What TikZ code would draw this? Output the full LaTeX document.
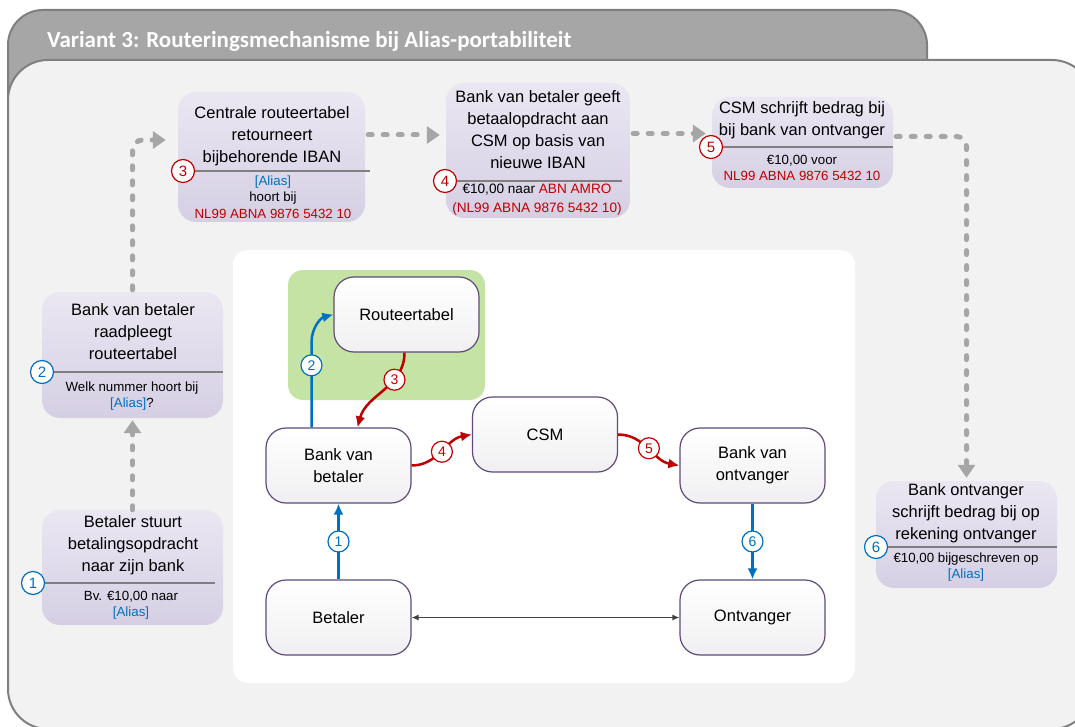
\documentclass[tikz,border=0pt]{standalone}
\usepackage{fontspec}
\setmainfont{Liberation Sans}
\newfontfamily\headfont{Carlito}
\usetikzlibrary{arrows.meta}

\definecolor{flowred}{RGB}{192,0,0}
\definecolor{flowblue}{RGB}{0,112,192}
\definecolor{tabgray}{RGB}{166,166,166}
\definecolor{rimgray}{RGB}{127,127,127}
\definecolor{panelgray}{RGB}{242,242,242}
\definecolor{routegreen}{RGB}{197,227,165}
\definecolor{rimpurple}{RGB}{96,74,123}
\definecolor{actorbot}{RGB}{240,240,242}
\definecolor{steptop}{RGB}{234,231,242}
\definecolor{stepbot}{RGB}{214,207,228}
\definecolor{hopgray}{RGB}{166,166,166}
\definecolor{duplex}{RGB}{64,64,64}

\newcommand\aliasref{\textcolor{flowblue}{[Alias]}}

\begin{document}
\begin{tikzpicture}[x=1pt,y=-1pt,
   actor/.style={draw=rimpurple,line width=1.2pt,rounded corners=20pt,top color=white,bottom color=actorbot,
      minimum width=145pt,minimum height=75pt,inner sep=0pt,align=center,font=\fontsize{16.5}{22}\selectfont},
   stepbox/.style={rounded corners=18pt,top color=steptop,bottom color=stepbot,inner sep=0pt},
   steptitle/.style={inner sep=0pt,align=center,font=\fontsize{16.5}{22}\selectfont},
   stepsub/.style={inner sep=0pt,align=center,font=\fontsize{13.3}{16.5}\selectfont},
   numred/.style={circle,draw=flowred,fill=white,text=flowred,line width=1.2pt,minimum size=23pt,inner sep=0pt,font=\fontsize{15}{15}\selectfont},
   numblue/.style={numred,draw=flowblue,text=flowblue},
   tagred/.style={numred,minimum size=21pt,font=\fontsize{14}{14}\selectfont},
   tagblue/.style={tagred,draw=flowblue,text=flowblue},
   sepline/.style={draw=rimgray,line width=1.2pt},
   redflow/.style={draw=flowred,line width=2.5pt,-{Latex[length=11pt,width=10pt]}},
   blueflow/.style={redflow,draw=flowblue},
   duplexflow/.style={draw=duplex,line width=1.2pt,{Latex[length=7pt,width=6pt]}-{Latex[length=7pt,width=6pt]}},
   hop/.style={draw=hopgray,line width=5pt,dash pattern=on 4pt off 11pt,line cap=round,rounded corners=10pt,
      -{Triangle[length=13pt,width=17pt]}}]

   \useasboundingbox (0,0) rectangle (1075,727);
   \clip (0,0) rectangle (1075,727);

   \filldraw[fill=tabgray,draw=rimgray,line width=2pt,rounded corners=35pt] (8,10) rectangle (927,150);
   \node[anchor=base west,text=white,inner sep=0pt,font=\headfont\bfseries\fontsize{23}{27}\selectfont] (heading) at (47,48)
      {Variant 3: Routeringsmechanisme bij Alias-portabiliteit};
   \filldraw[fill=panelgray,draw=rimgray,line width=2pt,rounded corners=40pt] (8,60) rectangle (1092,729);

   \fill[white,rounded corners=15pt] (233,250) rectangle (855,683);
   \fill[routegreen,rounded corners=15pt] (288,270) rectangle (485,400);


   \node[stepbox,minimum width=181pt,minimum height=115pt] (s1) at (132.5,567.5) {};
   \node[steptitle] (s1t) at (133,545) {Betaler stuurt\\betalingsopdracht\\naar zijn bank};
   \node[numblue] (s1n) at (33,583) {1};
   \draw[sepline] (s1n) -- ([xshift=-8pt]s1n -| s1.east);
   \node[stepsub] (s1s) at (131,605) {Bv. €10,00 naar\\\aliasref};

   \node[stepbox,minimum width=181pt,minimum height=126pt] (s2) at (132.5,355) {};
   \node[steptitle] (s2t) at (133,332) {Bank van betaler\\raadpleegt\\routeertabel};
   \node[numblue] (s2n) at (42,372) {2};
   \draw[sepline] (s2n) -- (s2n -| s2.east);
   \node[stepsub] (s2s) at (132,396) {Welk nummer hoort bij\\\aliasref?};

   \node[stepbox,minimum width=187pt,minimum height=130pt] (s3) at (271.5,157) {};
   \node[steptitle] (s3t) at (272,136) {Centrale routeertabel\\retourneert\\bijbehorende IBAN};
   \node[numred] (s3n) at (183,171) {3};
   \draw[sepline] (s3n) -- ([xshift=5pt]s3n -| s3.east);
   \node[stepsub] (s3s) at (273,197) {\aliasref\\hoort bij\\\textcolor{flowred}{NL99 ABNA 9876 5432 10}};

   \node[stepbox,minimum width=184pt,minimum height=135pt] (s4) at (538,150.5) {};
   \node[steptitle] (s4t) at (538,130) {Bank van betaler geeft\\betaalopdracht aan\\CSM op basis van\\nieuwe IBAN};
   \node[numred] (s4n) at (445,181) {4};
   \draw[sepline] (s4n) -- ([xshift=-8pt]s4n -| s4.east);
   \node[stepsub,font=\fontsize{13.6}{19}\selectfont] (s4s) at (537,200)
      {€10,00 naar \textcolor{flowred}{ABN AMRO}\\\textcolor{flowred}{(NL99 ABNA 9876 5432 10)}};

   \node[stepbox,minimum width=181pt,minimum height=91pt] (s5) at (802.5,142.5) {};
   \node[steptitle] (s5t) at (802,120) {CSM schrijft bedrag bij\\bij bank van ontvanger};
   \node[numred] (s5n) at (711,147) {5};
   \draw[sepline] (s5n) -- (s5n -| s5.east);
   \node[stepsub] (s5s) at (802,168) {€10,00 voor\\\textcolor{flowred}{NL99 ABNA 9876 5432 10}};

   \node[stepbox,minimum width=181pt,minimum height=107pt] (s6) at (966.5,534.5) {};
   \node[steptitle] (s6t) at (966,513) {Bank ontvanger\\schrijft bedrag bij op\\rekening ontvanger};
   \node[numblue] (s6n) at (876,547) {6};
   \draw[sepline] (s6n) -- (s6n -| s6.east);
   \node[stepsub] (s6s) at (966,567) {€10,00 bijgeschreven op\\\aliasref};


   \draw[hop,shorten >=2pt] (s1.north) -- (s2.south);
   \draw[hop,shorten >=12pt,shorten <=2pt] (s2.north) |- ([yshift=17pt]s3.west);
   \draw[hop,shorten >=6pt,shorten <=3pt] ([yshift=22pt]s3.east) -- ([yshift=22pt]s3.east -| s4.west);
   \draw[hop,shorten >=6pt,shorten <=3pt] ([yshift=17pt]s4.east) -- ([yshift=17pt]s4.east -| s5.west);
   \draw[hop,shorten >=3pt,shorten <=3pt] ([yshift=6pt]s5.east) -| (s6.north);


   \node[actor] (rt) at (406.5,314.5) {Routeertabel};
   \node[actor] (bvb) at (338.5,465.5) {Bank van\\betaler};
   \node[actor] (csm) at (545,434.5) {CSM};
   \node[actor] (bvo) at (752.5,465.5) {Bank van\\ontvanger};
   \node[actor] (bet) at (338.5,617.5) {Betaler};
   \node[actor] (ont) at (752.5,617.5) {Ontvanger};

   \path (bet) edge[blueflow] node[tagblue] (t1) {1} (bvb);
   \draw[blueflow] ([xshift=-27pt]bvb.north) -- node[tagblue,pos=.73] (t2) {2} ++(0,-85) to[out=90,in=195] (rt.west);
   \path ([xshift=-2pt]rt.south) edge[redflow,out=-90,in=75] node[tagred,pos=.33] (t3) {3} ([xshift=19pt]bvb.north);
   \path (bvb.east) edge[redflow,out=0,in=190] node[tagred] (t4) {4} (csm.west);
   \path (csm.east) edge[redflow,out=0,in=170] node[tagred] (t5) {5} (bvo.west);
   \path (bvo) edge[blueflow] node[tagblue] (t6) {6} (ont);
   \path (bet) edge[duplexflow] (ont);

\end{tikzpicture}
\end{document}
